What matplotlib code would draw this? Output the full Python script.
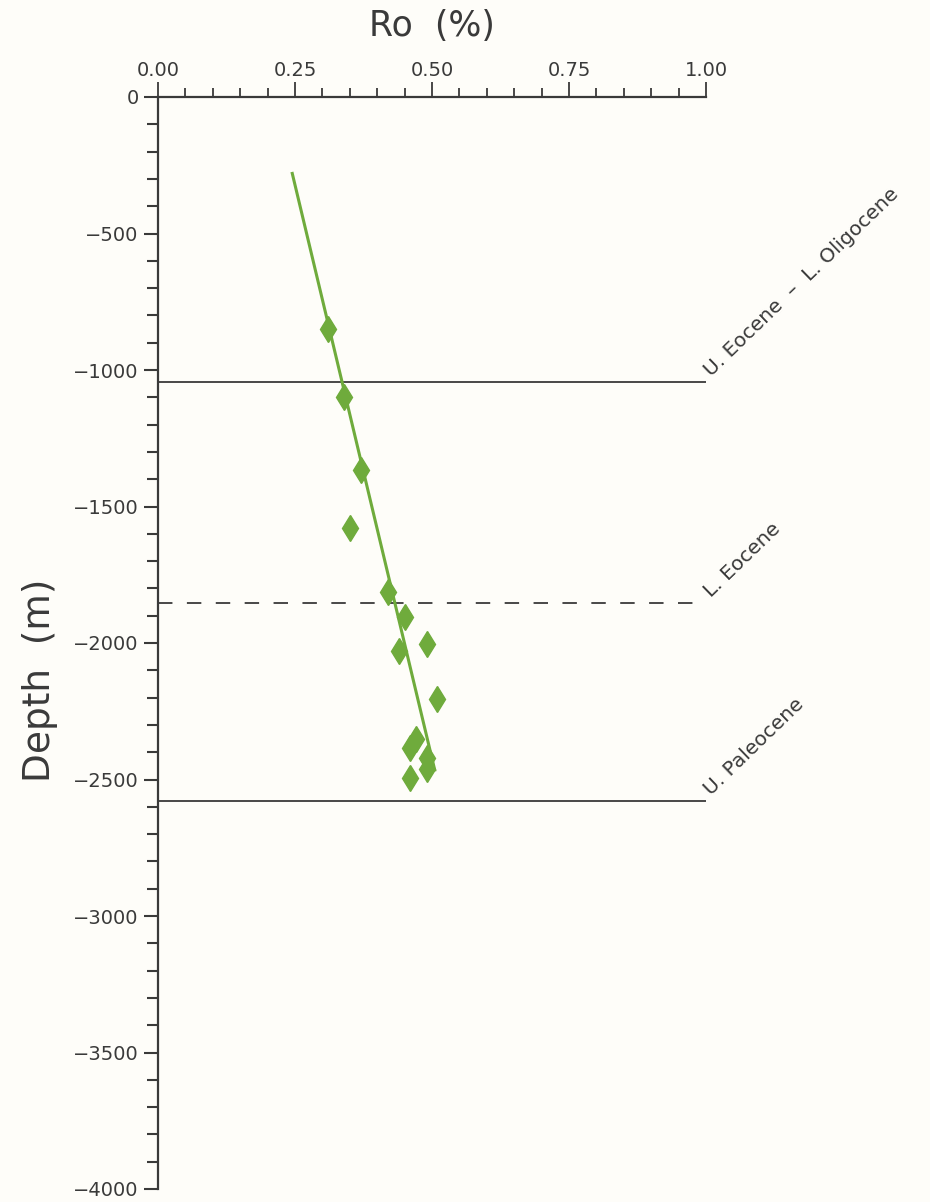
import numpy as np
import matplotlib
matplotlib.use("Agg")
import matplotlib.pyplot as plt
from matplotlib.ticker import MultipleLocator, FormatStrFormatter

# vitrinite reflectance samples (Ro %, depth m)
ro = [0.31, 0.34, 0.37, 0.35, 0.42, 0.45, 0.49, 0.44, 0.51,
      0.47, 0.46, 0.49, 0.49, 0.46]
depth = [-850, -1100, -1365, -1580, -1815, -1905, -2005, -2030, -2205,
         -2350, -2385, -2420, -2460, -2495]

# regression line end points
fit_ro = [0.245, 0.505]
fit_depth = [-280, -2465]

# formation tops
tops_depth = [-1045, -1855, -2580]
tops_label = ["U. Eocene  \u2013  L. Oligocene", "L. Eocene", "U. Paleocene"]
tops_style = ["-", "--", "-"]

xticks = [0.0, 0.25, 0.5, 0.75, 1.0]
yticks = [0, -500, -1000, -1500, -2000, -2500, -3000, -3500, -4000]

ink = "#3a3a3a"
green = "#6fab3c"

plt.rcParams['font.family'] = ['DejaVu Sans']
fig = plt.figure(figsize=(9.3, 12.02), dpi=100, facecolor="#fefdf9")
ax = fig.add_axes([158/930, 1-1189/1202, 548/930, 1092/1202])
ax.set_facecolor("#fefdf9")

ax.set_xlim(0, 1.0)
ax.set_ylim(-4000, 0)

for s in ["right", "bottom"]:
    ax.spines[s].set_visible(False)
for s in ["left", "top"]:
    ax.spines[s].set_color(ink)
    ax.spines[s].set_linewidth(1.6)

ax.xaxis.tick_top()
ax.xaxis.set_label_position("top")
ax.set_xticks(xticks)
ax.xaxis.set_major_formatter(FormatStrFormatter("%.2f"))
ax.xaxis.set_minor_locator(MultipleLocator(0.05))
ax.set_yticks(yticks)
ax.yaxis.set_minor_locator(MultipleLocator(100))

ax.tick_params(axis="x", which="major", direction="out", length=11, width=1.3,
               colors=ink, labelsize=14, pad=1)
ax.tick_params(axis="x", which="minor", direction="out", length=6.5, width=1.3,
               colors=ink)
ax.tick_params(axis="y", which="major", direction="out", length=10, width=1.5,
               colors=ink, labelsize=14, pad=4)
ax.tick_params(axis="y", which="minor", direction="out", length=8, width=1.5,
               colors=ink)

ax.set_xlabel("Ro  (%)", fontsize=25, color=ink, labelpad=18)
fig.text(40/930, 1-680/1202, "Depth  (m)", rotation=90, fontsize=27,
         color=ink, ha="center", va="center")

for d, lab, ls in zip(tops_depth, tops_label, tops_style):
    if ls == "--":
        ax.plot([0, 1.0], [d, d], color=ink, lw=1.3, dashes=(8, 8))
    else:
        ax.plot([0, 1.0], [d, d], color=ink, lw=1.3)
    ax.text(1.015, d + 10, lab, rotation=44, rotation_mode="anchor",
            ha="left", va="bottom", fontsize=14.5, color=ink, clip_on=False)

ax.plot(fit_ro, fit_depth, color=green, lw=2.2, zorder=3)
ax.plot(ro, depth, linestyle="none", marker="d", ms=13, color=green,
        markeredgecolor=green, zorder=4)

fig.savefig("out.png", dpi=100, facecolor=fig.get_facecolor())
